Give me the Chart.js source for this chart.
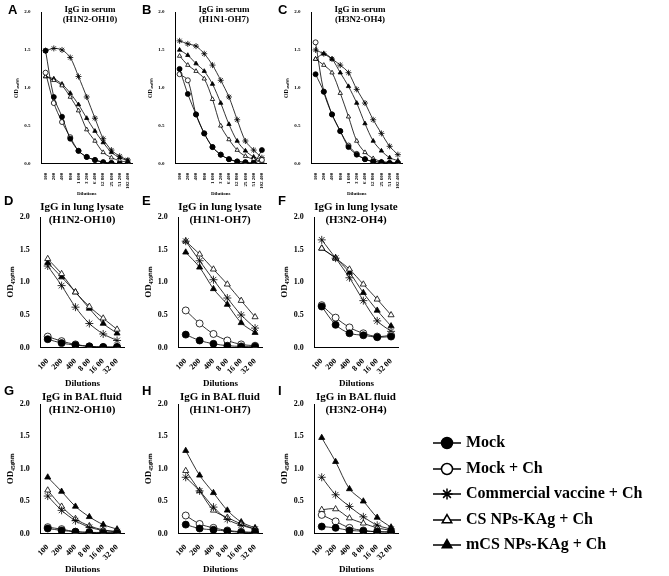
<!DOCTYPE html>
<html><head><meta charset="utf-8">
<script src="https://cdn.jsdelivr.net/npm/chart.js@4.4.0/dist/chart.umd.min.js"></script>
<style>
body{margin:0;background:#fff;width:669px;height:576px;position:relative;overflow:hidden;font-family:"Liberation Serif",serif}
.box{position:absolute}
.lt{position:absolute;font:bold 13px "Liberation Sans",Arial,sans-serif}
.tt{position:absolute;font-family:"Liberation Serif",serif;font-weight:bold;text-align:center;line-height:1.15}
#legend{position:absolute;left:432px;top:429px;font:bold 16px "Liberation Serif",serif;line-height:25.5px}
#legend canvas{vertical-align:middle;margin-right:4px}
</style></head><body>
<div id="legend"></div>
<script>
const serumTicks = ['100','200','400','800','1 600','3 200','6 400','12 800','25 600','51 200','102 400'];
const lungTicks = ['100','200','400','8 00','16 00','32 00'];
const seriesNames = ['Mock','Mock + Ch','Commercial vaccine + Ch','CS NPs-KAg + Ch','mCS NPs-KAg + Ch'];

// serum panels (11 dilutions)
const A_mock   = [1.49,0.88,0.62,0.33,0.17,0.09,0.05,0.02,0.01,0.00,0.00];
const A_mockCh = [1.20,0.80,0.55,0.35,0.17,0.09,0.05,0.02,0.01,0.00,0.00];
const A_comm   = [1.49,1.52,1.50,1.40,1.15,0.88,0.60,0.33,0.18,0.10,0.05];
const A_cs     = [1.15,1.10,1.03,0.88,0.70,0.45,0.30,0.15,0.08,0.04,0.02];
const A_mcs    = [1.15,1.12,1.05,0.93,0.78,0.60,0.43,0.28,0.15,0.08,0.04];

const B_mock   = [1.25,0.92,0.65,0.40,0.22,0.12,0.06,0.03,0.02,0.01,0.18];
const B_mockCh = [1.18,1.10,0.65,0.40,0.22,0.12,0.06,0.03,0.02,0.01,0.05];
const B_comm   = [1.62,1.58,1.55,1.45,1.30,1.10,0.88,0.58,0.30,0.18,0.08];
const B_cs     = [1.42,1.30,1.22,1.12,0.85,0.50,0.32,0.18,0.10,0.06,0.03];
const B_mcs    = [1.50,1.43,1.32,1.22,1.05,0.80,0.52,0.30,0.17,0.09,0.05];

const C_mock   = [1.18,0.95,0.65,0.43,0.22,0.12,0.06,0.03,0.02,0.01,0.01];
const C_mockCh = [1.60,0.95,0.65,0.43,0.24,0.13,0.06,0.03,0.02,0.01,0.01];
const C_comm   = [1.50,1.45,1.38,1.30,1.20,0.98,0.80,0.58,0.40,0.23,0.12];
const C_cs     = [1.38,1.30,1.20,0.93,0.62,0.30,0.15,0.07,0.03,0.02,0.01];
const C_mcs    = [1.38,1.45,1.38,1.20,1.02,0.80,0.53,0.30,0.17,0.08,0.04];

// lung lysate and BAL panels (6 dilutions)
const D_mock   = [0.13,0.07,0.04,0.02,0.01,0.01];
const D_mockCh = [0.17,0.10,0.05,0.02,0.01,0.01];
const D_comm   = [1.25,0.95,0.62,0.37,0.21,0.11];
const D_cs     = [1.36,1.13,0.85,0.63,0.45,0.28];
const D_mcs    = [1.30,1.08,0.85,0.60,0.37,0.22];

const E_mock   = [0.20,0.11,0.06,0.03,0.02,0.02];
const E_mockCh = [0.57,0.37,0.21,0.11,0.05,0.03];
const E_comm   = [1.63,1.33,1.04,0.76,0.50,0.30];
const E_cs     = [1.63,1.43,1.20,0.97,0.72,0.47];
const E_mcs    = [1.46,1.23,0.90,0.66,0.38,0.23];

const F_mock   = [0.63,0.35,0.22,0.19,0.16,0.17];
const F_mockCh = [0.65,0.46,0.31,0.22,0.17,0.19];
const F_comm   = [1.65,1.37,1.07,0.72,0.41,0.25];
const F_cs     = [1.52,1.37,1.20,0.97,0.74,0.50];
const F_mcs    = [1.52,1.37,1.15,0.84,0.57,0.33];

const G_mock   = [0.08,0.05,0.03,0.02,0.01,0.01];
const G_mockCh = [0.10,0.07,0.03,0.02,0.02,0.02];
const G_comm   = [0.58,0.36,0.20,0.10,0.05,0.03];
const G_cs     = [0.67,0.42,0.23,0.12,0.06,0.03];
const G_mcs    = [0.87,0.65,0.42,0.26,0.14,0.07];

const H_mock   = [0.14,0.08,0.06,0.04,0.02,0.02];
const H_mockCh = [0.28,0.15,0.09,0.05,0.03,0.02];
const H_comm   = [0.87,0.66,0.41,0.22,0.13,0.07];
const H_cs     = [0.97,0.66,0.36,0.25,0.15,0.07];
const H_mcs    = [1.28,0.90,0.63,0.36,0.18,0.09];

const I_mock   = [0.11,0.09,0.05,0.04,0.03,0.03];
const I_mockCh = [0.29,0.19,0.09,0.05,0.03,0.02];
const I_comm   = [0.87,0.60,0.42,0.26,0.13,0.07];
const I_cs     = [0.37,0.38,0.24,0.16,0.09,0.05];
const I_mcs    = [1.48,1.11,0.69,0.50,0.25,0.10];

const styles = [
  {pointStyle:'circle', fill:true},
  {pointStyle:'circle', fill:false},
  {pointStyle:'star', fill:false},
  {pointStyle:'triangle', fill:false},
  {pointStyle:'triangle', fill:true}
];

function makePanel(left, top, w, h, padTop, letter, title, ticks, data, small) {
  const wrap = document.createElement('div');
  wrap.className = 'box';
  wrap.style.cssText = `left:${left}px;top:${top}px;width:${w}px;height:${h}px`;
  const cv = document.createElement('canvas');
  wrap.appendChild(cv);
  document.body.appendChild(wrap);
  const lt = document.createElement('div');
  lt.className = 'lt';
  lt.style.left = (left + (small ? -4 : 0)) + 'px';
  lt.style.top = (top + (small ? 2 : 3)) + 'px';
  lt.textContent = letter;
  document.body.appendChild(lt);
  const tt = document.createElement('div');
  tt.className = 'tt';
  tt.style.cssText = `left:${left + 25}px;top:${top + (small ? 4 : 10)}px;width:${w - 20}px;font-size:${small ? 9 : 11}px`;
  tt.innerHTML = title.join('<br>');
  document.body.appendChild(tt);

  const ps = small ? 2.5 : 3.5;
  new Chart(cv, {
    type: 'line',
    data: {
      labels: ticks,
      datasets: data.map((d, i) => ({
        label: seriesNames[i],
        data: d,
        borderColor: '#000',
        borderWidth: 0.8,
        pointStyle: styles[i].pointStyle,
        pointBackgroundColor: styles[i].fill ? '#000' : '#fff',
        pointBorderColor: '#000',
        pointBorderWidth: 0.8,
        pointRadius: i == 2 ? ps + 0.5 : ps,
        tension: 0.3
      }))
    },
    options: {
      responsive: true,
      maintainAspectRatio: false,
      animation: false,
      layout: {padding: {left: 0, right: 6, top: padTop, bottom: 0}},
      plugins: {legend: {display: false}, title: {display: false}},
      scales: {
        x: {
          grid: {display: false, drawTicks: true},
          border: {color: '#000'},
          offset: true,
          ticks: {color: '#000', maxRotation: small ? 90 : 45, minRotation: small ? 90 : 45, padding: 1,
                  font: {family: 'Liberation Serif', size: small ? 5 : 8, weight: 'bold'}, autoSkip: false},
          title: {display: true, text: 'Dilutions', color: '#000', padding: 1,
                  font: {family: 'Liberation Serif', size: small ? 5 : 9, weight: 'bold'}}
        },
        y: {
          min: 0, max: 2,
          grid: {display: false},
          border: {color: '#000'},
          ticks: {stepSize: 0.5, color: '#000', callback: v => v.toFixed(1),
                  font: {family: 'Liberation Serif', size: small ? 5 : 8, weight: 'bold'}},
          title: {display: true, text: 'OD₄₅₀ₙₘ', color: '#000', padding: 1,
                  font: {family: 'Liberation Serif', size: small ? 6 : 9, weight: 'bold'}}
        }
      }
    }
  });
}

makePanel(12, 0, 126, 198, 12, 'A', ['IgG in serum', '(H1N2-OH10)'], serumTicks, [A_mock, A_mockCh, A_comm, A_cs, A_mcs], true);
makePanel(146, 0, 126, 198, 12, 'B', ['IgG in serum', '(H1N1-OH7)'], serumTicks, [B_mock, B_mockCh, B_comm, B_cs, B_mcs], true);
makePanel(282, 0, 126, 198, 12, 'C', ['IgG in serum', '(H3N2-OH4)'], serumTicks, [C_mock, C_mockCh, C_comm, C_cs, C_mcs], true);
makePanel(4, 190, 126, 200, 27, 'D', ['IgG in lung lysate', '(H1N2-OH10)'], lungTicks, [D_mock, D_mockCh, D_comm, D_cs, D_mcs], false);
makePanel(142, 190, 126, 200, 27, 'E', ['IgG in lung lysate', '(H1N1-OH7)'], lungTicks, [E_mock, E_mockCh, E_comm, E_cs, E_mcs], false);
makePanel(278, 190, 126, 200, 27, 'F', ['IgG in lung lysate', '(H3N2-OH4)'], lungTicks, [F_mock, F_mockCh, F_comm, F_cs, F_mcs], false);
makePanel(4, 380, 126, 196, 24, 'G', ['IgG in BAL fluid', '(H1N2-OH10)'], lungTicks, [G_mock, G_mockCh, G_comm, G_cs, G_mcs], false);
makePanel(142, 380, 126, 196, 24, 'H', ['IgG in BAL fluid', '(H1N1-OH7)'], lungTicks, [H_mock, H_mockCh, H_comm, H_cs, H_mcs], false);
makePanel(278, 380, 126, 196, 24, 'I', ['IgG in BAL fluid', '(H3N2-OH4)'], lungTicks, [I_mock, I_mockCh, I_comm, I_cs, I_mcs], false);

// legend as text rows with a small drawn marker
const leg = document.getElementById('legend');
seriesNames.forEach((name, i) => {
  const row = document.createElement('div');
  const c = document.createElement('canvas');
  c.width = 30; c.height = 14;
  const ctx = c.getContext('2d');
  ctx.strokeStyle = '#000'; ctx.lineWidth = 1.5;
  ctx.beginPath(); ctx.moveTo(1, 7); ctx.lineTo(29, 7); ctx.stroke();
  ctx.fillStyle = styles[i].fill ? '#000' : '#fff';
  Chart.helpers.drawPoint(ctx, {pointStyle: styles[i].pointStyle, radius: 5.5, rotation: 0, borderWidth: 1.2}, 15, 7);
  row.appendChild(c);
  row.appendChild(document.createTextNode(name));
  leg.appendChild(row);
});
</script>
</body></html>
